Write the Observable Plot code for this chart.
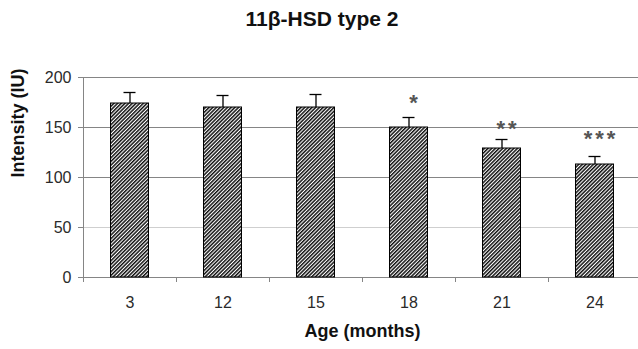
<!DOCTYPE html>
<html><head><meta charset="utf-8">
<script src="https://cdn.jsdelivr.net/npm/d3@7"></script>
<script src="https://cdn.jsdelivr.net/npm/@observablehq/plot@0.6"></script>
<style>
body{margin:0;background:#fff;font-family:"Liberation Sans",Arial,sans-serif;}
#title{width:638px;height:36px;box-sizing:border-box;padding-top:2px;padding-left:6px;line-height:34px;text-align:center;font-weight:bold;font-size:21px;color:#111;}
.stars text{letter-spacing:3px;}
</style></head><body>
<div id="title">11β-HSD type 2</div>
<div id="chart"></div>
<script>
const ages = ["3", "12", "15", "18", "21", "24"];
const means = [174, 170, 170, 150, 129, 113];
const errors = [11, 12, 13, 10, 9, 8];
const stars = ["", "", "", "*", "**", "***"];
const starY = [null, null, null, 180, 154, 144];
const yTicks = [0, 50, 100, 150, 200];
const yLabel = "Intensity (IU)";
const xLabel = "Age (months)";

const data = ages.map((a, i) => ({age: a, mean: means[i], top: means[i] + errors[i], star: stars[i], sy: starY[i]}));
const gray = "#858585";

const chart = Plot.plot({
  width: 638, height: 313,
  marginLeft: 83, marginRight: -3, marginTop: 41, marginBottom: 72,
  style: {fontFamily: "Liberation Sans, Arial, sans-serif", background: "#fff", overflow: "visible", color: "#222"},
  x: {type: "band", domain: ages, padding: 0, axis: null},
  y: {domain: [0, 200], axis: null},
  marks: [
    Plot.ruleY([50], {stroke: "#cfcfcf"}),
    Plot.ruleY([100, 150, 200], {stroke: gray}),
    Plot.ruleY([0], {stroke: gray}),
    Plot.frame({anchor: "left", stroke: gray}),
    Plot.barY(data, {x: "age", y: "mean", fill: "url(#hatch)", stroke: "#000", strokeWidth: 1, insetLeft: 27.5, insetRight: 27.5}),
    Plot.ruleX(data, {x: "age", y1: "mean", y2: "top", stroke: "#000", strokeWidth: 1.3}),
    Plot.tickY(data, {x: "age", y: "top", stroke: "#000", strokeWidth: 1.3, insetLeft: 40.5, insetRight: 40.5}),
    Plot.text(data.filter(d => d.star), {x: "age", y: "sy", text: "star", fontSize: 22, fontWeight: "bold", fill: "#555", dx: 6, dy: 5, className: "stars"}),
    Plot.axisY({ticks: yTicks, tickSize: 5, tickPadding: 7, fontSize: 16, stroke: gray, fill: "#2a2a2a", label: null}),
    Plot.axisX({tickSize: 5, tickFormat: () => "", dx: -46.5, stroke: gray, label: null}),
    Plot.axisX({tickSize: 0, tickPadding: 19, fontSize: 16, fill: "#2a2a2a", label: null}),
    Plot.text([yLabel], {frameAnchor: "left", rotate: -90, dx: -65, fontSize: 18, fontWeight: "bold", fill: "#111"}),
    Plot.text([xLabel], {frameAnchor: "bottom", dy: 59, fontSize: 18, fontWeight: "bold", fill: "#111"})
  ]
});
const ns = "http://www.w3.org/2000/svg";
const defs = document.createElementNS(ns, "defs");
defs.innerHTML = '<pattern id="hatch" patternUnits="userSpaceOnUse" width="2.6" height="2.6" patternTransform="rotate(45)"><rect width="2.6" height="2.6" fill="#fff"/><rect width="1.5" height="2.6" fill="#111"/></pattern>';
chart.insertBefore(defs, chart.firstChild);
document.getElementById("chart").appendChild(chart);
</script>
</body></html>
